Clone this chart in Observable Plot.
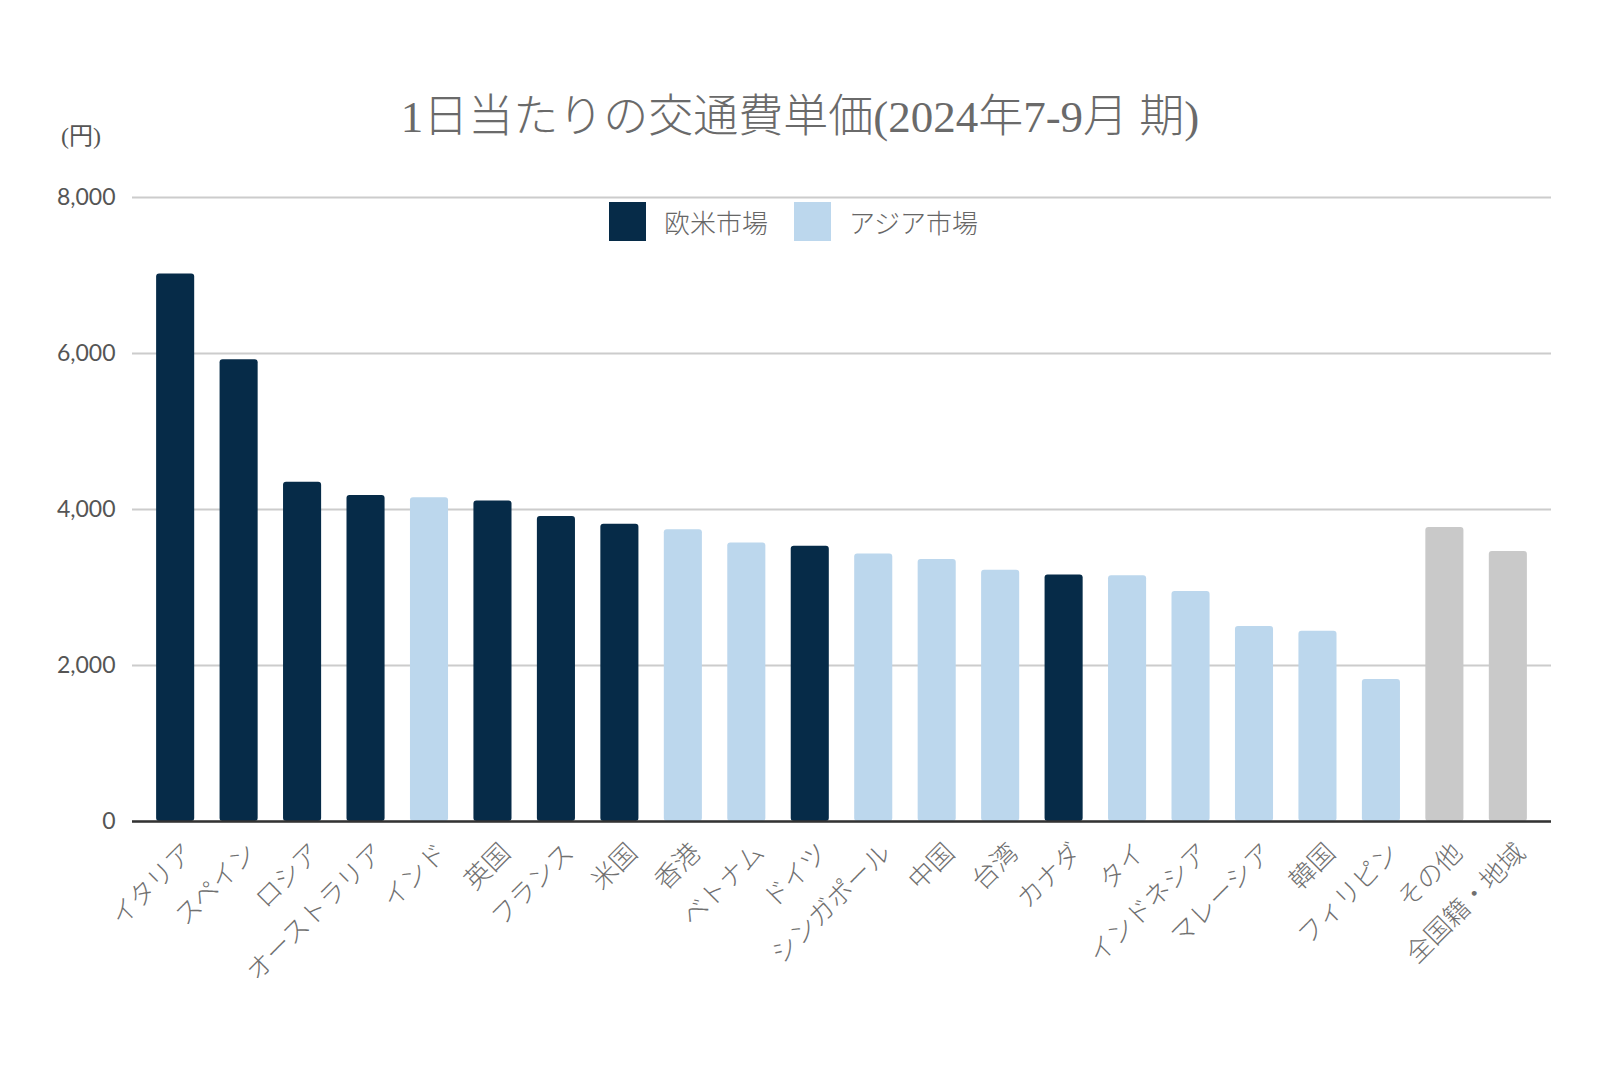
<!DOCTYPE html>
<html>
<head>
<meta charset="utf-8">
<script src="https://cdn.jsdelivr.net/npm/d3@7"></script>
<script src="https://cdn.jsdelivr.net/npm/@observablehq/plot@0.6"></script>
<style>
  html, body { margin: 0; padding: 0; background: #fff; }
  #wrap { position: relative; width: 1600px; height: 1067px; overflow: hidden; }
  #title { position: absolute; left: 0; width: 1600px; top: 80px; text-align: center;
    font-family: "Liberation Serif", "Noto Sans CJK JP", serif; font-weight: 300; font-size: 45px; color: #6a6a6a; padding-left: 0px; }
  #unit { position: absolute; left: 61px; top: 116px; font-family: "Liberation Serif", "Noto Sans CJK JP", serif; font-size: 24px; color: #555; }
  .lg { position: absolute; top: 202px; height: 39px; display: flex; align-items: center; }
  .sw { width: 37px; height: 39px; margin-right: 18px; }
  .lt { font-family: "Noto Sans CJK JP", sans-serif; font-weight: 300; font-size: 26px; color: #666; }
  #chart { position: absolute; left: 0; top: 0; }
</style>
</head>
<body>
<div id="wrap">
  <div id="chart"></div>
  <div id="title">1日当たりの交通費単価(2024年7-9月 期)</div>
  <div id="unit">(円)</div>
  <div class="lg" style="left:609px"><div class="sw" style="background:#062b48"></div><div class="lt">欧米市場</div></div>
  <div class="lg" style="left:794px"><div class="sw" style="background:#bcd7ed"></div><div class="lt">アジア市場</div></div>
</div>
<script>
const countries = ["イタリア","スペイン","ロシア","オーストラリア","インド","英国","フランス","米国","香港","ベトナム","ドイツ","シンガポール","中国","台湾","カナダ","タイ","インドネシア","マレーシア","韓国","フィリピン","その他","全国籍・地域"];
const costs = [7020,5920,4350,4180,4150,4110,3910,3810,3740,3570,3530,3430,3360,3220,3160,3150,2950,2500,2440,1820,3770,3460];
const markets = ["欧米市場","欧米市場","欧米市場","欧米市場","アジア市場","欧米市場","欧米市場","欧米市場","アジア市場","アジア市場","欧米市場","アジア市場","アジア市場","アジア市場","欧米市場","アジア市場","アジア市場","アジア市場","アジア市場","アジア市場","その他","その他"];
const marketNames = ["欧米市場","アジア市場","その他"];
const marketColors = ["#062b48","#bcd7ed","#c9c9c9"];
const yTicks = [0,2000,4000,6000,8000];

const data = countries.map((c,i)=>({country:c, cost:costs[i], market:markets[i]}));

const chart = Plot.plot({
  width: 1600,
  height: 1067,
  marginTop: 197,
  marginBottom: 246,
  marginLeft: 132,
  marginRight: 49,
  style: { fontFamily: "'Noto Sans CJK JP', sans-serif", background: "transparent" },
  x: { domain: countries, paddingInner: 0.4, paddingOuter: 0.38, round: false, label: null },
  y: { domain: [0, 8000], label: null },
  color: { domain: marketNames, range: marketColors },
  marks: [
    Plot.gridY(yTicks, { stroke: "#cccccc", strokeOpacity: 1, strokeWidth: 2 }),
    Plot.axisY(yTicks, { tickSize: 0, tickPadding: 17, tickFormat: d3.format(","), fontSize: 23, fill: "#555", fontFamily: "Lato, sans-serif", label: null }),
    Plot.barY(data, { x: "country", y: "cost", fill: "market", rx: 3 }),
    Plot.ruleY([0], { stroke: "#333", strokeWidth: 2.5 }),
    Plot.axisX({ tickSize: 0, tickRotate: -45, tickPadding: 27, dx: 13, fontSize: 26, fill: "#707070", fontWeight: 300, label: null })
  ]
});
document.getElementById("chart").appendChild(chart);
</script>
</body>
</html>
